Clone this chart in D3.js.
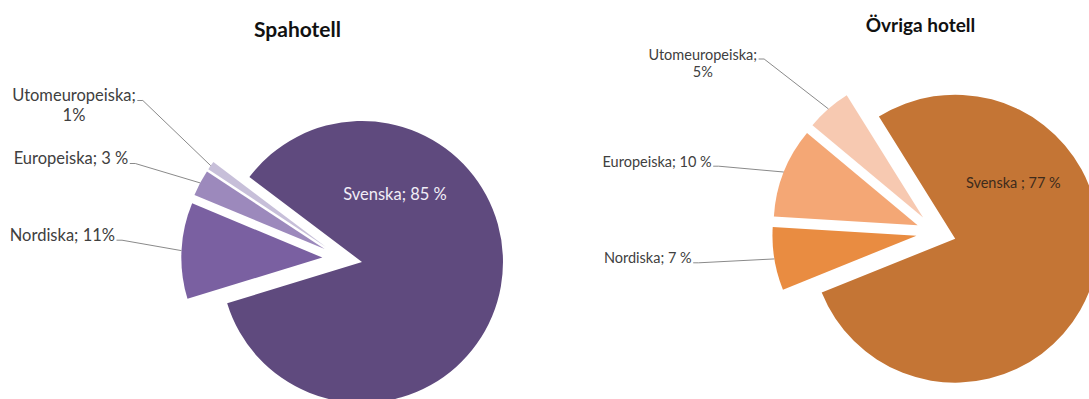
<!DOCTYPE html>
<html>
<head>
<meta charset="utf-8">
<script src="https://cdn.jsdelivr.net/npm/d3@7"></script>
<style>
  html, body { margin: 0; padding: 0; background: #ffffff; }
  svg { display: block; font-family: Lato, "Open Sans", sans-serif; }
</style>
</head>
<body>
<svg id="chart" width="1089" height="399"></svg>
<script>
// Guest nationality shares (%) for two hotel groups
const categories = ["Svenska", "Nordiska", "Europeiska", "Utomeuropeiska"];

const spaValues = [85, 11, 3, 1];
const spaLabels = ["Svenska; 85 %", "Nordiska; 11%", "Europeiska; 3 %", "Utomeuropeiska;\n1%"];

const ovrigaValues = [77, 7, 10, 5];
const ovrigaLabels = ["Svenska ; 77 %", "Nordiska; 7 %", "Europeiska; 10 %", "Utomeuropeiska;\n5%"];

const titles = ["Spahotell", "Övriga hotell"];

// Appearance and placement of each pie
const charts = [
  {
    title: titles[0], values: spaValues, labels: spaLabels,
    colors: ["#5f4a7e", "#7a60a1", "#9c89bc", "#c7bfd9"],
    cx: 342.3, cy: 258.5, r: 141, explode: 20, startDeg: -53,
    titlePos: { x: 297.5, y: 36.7, size: 21 },
    labelSize: 16.5, lineGap: 20,
    labelPos: [
      { x: 395, y: 200, anchor: "middle", fill: "#f1edf6", leader: false },
      { x: 115, y: 240.7, anchor: "end" },
      { x: 128.3, y: 164, anchor: "end" },
      { x: 74, y: 101, anchor: "middle" }
    ]
  },
  {
    title: titles[1], values: ovrigaValues, labels: ovrigaLabels,
    colors: ["#c47535", "#e98c41", "#f4a775", "#f7c9b1"],
    cx: 936.2, cy: 232.5, r: 144, explode: 20, startDeg: -32,
    titlePos: { x: 920.5, y: 32.3, size: 19 },
    labelSize: 14.5, lineGap: 17.2,
    labelPos: [
      { x: 1013.3, y: 187.7, anchor: "middle", fill: "#3d2b1c", leader: false },
      { x: 691.7, y: 263.3, anchor: "end" },
      { x: 711.7, y: 166.7, anchor: "end" },
      { x: 702.8, y: 59.5, anchor: "middle" }
    ]
  }
];

const svg = d3.select("#chart");
const rad = d => d * Math.PI / 180;

charts.forEach(cfg => {
  const g = svg.append("g");

  g.append("text")
    .attr("x", cfg.titlePos.x)
    .attr("y", cfg.titlePos.y)
    .attr("text-anchor", "middle")
    .attr("font-weight", 700)
    .attr("font-size", cfg.titlePos.size)
    .attr("fill", "#111111")
    .text(cfg.title);

  const pie = d3.pie()
    .sort(null)
    .value(d => d.value)
    .startAngle(rad(cfg.startDeg))
    .endAngle(rad(cfg.startDeg) + 2 * Math.PI);

  const arcs = pie(categories.map((c, i) => ({ name: c, value: cfg.values[i], label: cfg.labels[i], i })));

  const arc = d3.arc().innerRadius(0).outerRadius(cfg.r);
  const mid = d => (d.startAngle + d.endAngle) / 2;
  const dir = d => [Math.sin(mid(d)), -Math.cos(mid(d))];

  // exploded slices
  g.selectAll("path.slice")
    .data(arcs)
    .join("path")
    .attr("class", "slice")
    .attr("fill", d => cfg.colors[d.data.i])
    .attr("transform", d => {
      const [ux, uy] = dir(d);
      return `translate(${cfg.cx + ux * cfg.explode},${cfg.cy + uy * cfg.explode})`;
    })
    .attr("d", arc);

  // labels
  arcs.forEach(d => {
    const p = cfg.labelPos[d.data.i];
    const lines = d.data.label.split("\n");
    const t = g.append("text")
      .attr("x", p.x)
      .attr("y", p.y)
      .attr("text-anchor", p.anchor)
      .attr("font-size", cfg.labelSize)
      .attr("fill", p.fill || "#404040");
    lines.forEach((ln, k) => {
      t.append("tspan")
        .attr("x", p.x)
        .attr("y", p.y + k * cfg.lineGap)
        .text(ln);
    });

    if (p.leader === false) return;

    // leader line from the end of the first label line to the slice rim
    const first = t.select("tspan").node();
    const w = first.getComputedTextLength();
    const right = p.anchor === "end" ? p.x : (p.anchor === "middle" ? p.x + w / 2 : p.x + w);
    const [ux, uy] = dir(d);
    const rr = cfg.r + cfg.explode;
    const tx = cfg.cx + ux * rr, ty = cfg.cy + uy * rr;
    const sy = p.y - 0.5;
    g.append("path")
      .attr("d", `M${right + 1.5},${sy}H${right + 7}L${tx},${ty}`)
      .attr("fill", "none")
      .attr("stroke", "#8a8a8a")
      .attr("stroke-width", 1);
  });
});
</script>
</body>
</html>
